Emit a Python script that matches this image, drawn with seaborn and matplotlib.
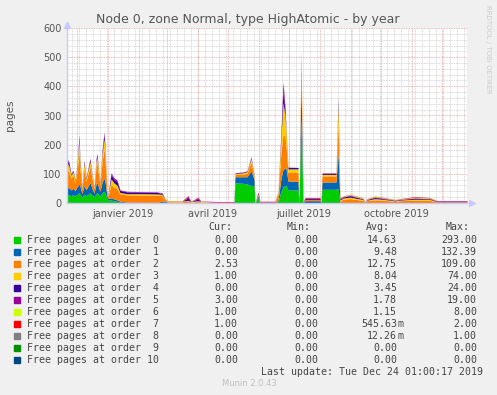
import pandas as pd
import seaborn as sns
import matplotlib.pyplot as plt
from matplotlib.patches import Rectangle

# sample days since the start of the 400 day window
days = [0, 2, 4, 6, 8, 10, 12, 13, 15, 17, 19, 21, 23, 25, 27, 29, 30, 32, 33, 35, 37, 38, 40, 41, 44,
        47, 50, 53, 60, 75, 90, 95, 98, 101, 115,
        121, 124, 131, 134, 150, 167, 168, 175, 180, 184,
        187, 188, 191, 193, 208, 211, 214, 216, 218, 219,
        221, 231, 232, 234, 236, 238, 253, 254, 255, 269,
        271, 273, 276, 283, 296, 298, 300, 308, 318, 328,
        333, 348, 363, 370, 400]

order0 = [30, 28, 25, 28, 25, 30, 35, 30, 20, 30, 25, 30, 35, 28, 22, 32, 35, 28, 25, 35, 40, 35, 15, 10, 10,
          8, 6, 3, 1, 0, 0, 2, 3, 0, 0,
          0, 0, 0, 0, 0, 0, 69, 68, 65, 60,
          60, 0, 15, 0, 0, 5, 40, 55, 60, 60,
          45, 45, 2, 290, 0, 0, 0, 0, 47, 47,
          50, 0, 0, 0, 0, 0, 0, 0, 0, 0,
          0, 0, 0, 0, 0]
order1 = [25, 24, 20, 22, 18, 25, 30, 28, 12, 30, 20, 28, 35, 22, 12, 32, 35, 22, 15, 35, 45, 40, 8, 6, 8,
          6, 5, 3, 2, 2, 2, 4, 4, 0, 0,
          0, 0, 0, 0, 0, 0, 21, 22, 25, 50,
          22, 0, 8, 0, 0, 5, 45, 60, 60, 60,
          30, 30, 2, 130, 1, 8, 8, 0, 25, 25,
          120, 2, 1, 1, 1, 0, 1, 1, 1, 0,
          1, 1, 1, 0, 0]
order2 = [60, 55, 40, 45, 25, 50, 110, 60, 15, 60, 30, 42, 55, 35, 15, 60, 65, 35, 22, 70, 100, 80, 10, 8, 45,
          40, 38, 25, 25, 25, 24, 20, 5, 4, 4,
          6, 3, 5, 3, 1, 1, 8, 9, 12, 30,
          10, 1, 5, 2, 2, 20, 90, 120, 110, 80,
          30, 30, 3, 90, 1, 4, 4, 0, 21, 21,
          109, 4, 12, 14, 8, 1, 7, 10, 8, 5,
          7, 9, 8, 3, 3]
order3 = [22, 20, 10, 12, 8, 17, 40, 20, 5, 17, 7, 13, 18, 10, 4, 17, 22, 10, 6, 25, 35, 30, 3, 3, 20,
          15, 12, 5, 4, 5, 5, 4, 2, 2, 2,
          3, 2, 3, 2, 0, 0, 3, 4, 5, 12,
          4, 0, 3, 1, 1, 6, 50, 110, 70, 50,
          12, 12, 1, 10, 1, 0, 0, 0, 5, 5,
          60, 4, 4, 5, 3, 0, 2, 4, 3, 2,
          2, 3, 3, 1, 1]
order4 = [10, 9, 4, 4, 3, 6, 12, 8, 2, 6, 3, 5, 7, 4, 1, 6, 9, 4, 3, 10, 15, 10, 1, 1, 15,
          12, 13, 7, 6, 5, 5, 4, 1, 0, 0,
          8, 0, 6, 0, 1, 1, 2, 2, 2, 4,
          2, 0, 5, 1, 1, 1, 15, 40, 20, 10,
          5, 5, 1, 3, 1, 3, 3, 0, 3, 3,
          15, 4, 3, 5, 2, 0, 2, 4, 2, 2,
          2, 3, 2, 1, 1]
order5 = [5, 4, 1, 2, 1, 2, 6, 4, 1, 4, 1, 2, 4, 1, 1, 3, 5, 1, 1, 5, 8, 5, 1, 0, 5,
          5, 5, 2, 2, 2, 2, 1, 0, 0, 0,
          6, 0, 4, 0, 1, 1, 1, 1, 1, 2,
          1, 0, 2, 1, 1, 1, 10, 30, 10, 0,
          1, 0, 0, 1, 0, 2, 2, 0, 2, 2,
          6, 2, 2, 2, 1, 1, 1, 2, 2, 1,
          1, 2, 2, 2, 2]
order6 = [0, 0, 0, 0, 0, 0, 0, 0, 0, 0, 0, 0, 0, 0, 0, 0, 0, 0, 0, 0, 0, 0, 0, 0, 0,
          0, 0, 0, 0, 0, 0, 0, 0, 1, 1,
          0, 1, 0, 1, 0, 0, 0, 0, 0, 0,
          0, 0, 0, 0, 0, 0, 0, 0, 0, 0,
          0, 0, 0, 0, 0, 0, 0, 0, 0, 0,
          0, 1, 1, 2, 2, 1, 1, 2, 1, 1,
          1, 2, 2, 0, 0]
order7 = [0, 0, 0, 0, 0, 0, 0, 0, 0, 0, 0, 0, 0, 0, 0, 0, 0, 0, 0, 0, 0, 0, 0, 0, 0,
          0, 0, 0, 0, 0, 0, 0, 0, 1, 1,
          2, 1, 2, 1, 2, 2, 0, 0, 0, 0,
          0, 0, 0, 1, 1, 0, 0, 0, 0, 0,
          0, 0, 0, 0, 0, 2, 2, 0, 0, 0,
          0, 1, 1, 1, 1, 1, 1, 1, 1, 1,
          1, 2, 1, 1, 1]
order8 = [0] * len(days)
order9 = [0] * len(days)
order10 = [0] * len(days)

labels = ['Free pages at order  %d' % i for i in range(10)] + ['Free pages at order 10']
colors = ['#00CC00', '#0066B3', '#FF8000', '#FFCC00', '#330099', '#990099',
          '#CCFF00', '#FF0000', '#808080', '#008F00', '#00487D']
cur = ['0.00', '0.00', '2.53', '1.00', '0.00', '3.00', '1.00', '1.00', '0.00', '0.00', '0.00']
mins = ['0.00'] * 11
avg = ['14.63', '9.48', '12.75', '8.04', '3.45', '1.78', '1.15', '545.63m', '12.26m', '0.00', '0.00']
maxs = ['293.00', '132.39', '109.00', '74.00', '24.00', '19.00', '8.00', '2.00', '1.00', '0.00', '0.00']
month_labels = ['janvier 2019', 'avril 2019', 'juillet 2019', 'octobre 2019']

start = pd.Timestamp('2018-11-21')
end = start + pd.Timedelta(days=400)
dates = start + pd.to_timedelta(days, unit='D')

sns.set_theme(style='white')
plt.rcParams['font.family'] = 'DejaVu Sans'

W, H = 497, 395
fig = plt.figure(figsize=(W / 100, H / 100), dpi=100, facecolor='#F0F0F0')
ax = fig.add_axes([67 / W, 1 - 203 / H, 400 / W, 175 / H])
ax.set_facecolor('white')

series = [order0, order1, order2, order3, order4, order5, order6, order7, order8, order9, order10]
ax.stackplot(dates, *series, colors=colors, linewidth=0, antialiased=False, zorder=3)

ax.set_xlim(start, end)
ax.set_ylim(0, 600)

# grid
for v in range(20, 600, 20):
    if v % 100:
        ax.axhline(v, color='#cccccc', lw=0.6, ls=(0, (1, 1)), zorder=1)
for v in range(100, 601, 100):
    ax.axhline(v, color='#e5a0a0', lw=0.6, ls=(0, (1, 1)), zorder=1)
for d in pd.date_range(start, end, freq='W-MON'):
    ax.axvline(d, color='#cccccc', lw=0.6, ls=(0, (1, 1)), zorder=1)
for d in pd.date_range(start, end, freq='MS'):
    ax.axvline(d, color='#e5a0a0', lw=0.6, ls=(0, (1, 1)), zorder=1)

ax.set_yticks(range(0, 601, 100))
mid = pd.to_datetime(['2019-01-16', '2019-04-16', '2019-07-16', '2019-10-16'])
ax.set_xticks(mid)
ax.set_xticklabels(month_labels)
ax.tick_params(length=0, labelsize=7, colors='#555555', pad=4)
ax.set_ylabel('pages', fontsize=7.5, color='#555555', labelpad=20)

for s in ['top', 'right']:
    ax.spines[s].set_visible(False)
for s in ['left', 'bottom']:
    ax.spines[s].set_color('#c8c8ff')
    ax.spines[s].set_linewidth(1)
    ax.spines[s].set_zorder(4)
ax.plot([0], [1.02], marker='^', ms=4, color='#c8c8ff', transform=ax.transAxes, clip_on=False)
ax.plot([1.012], [0], marker='>', ms=4, color='#c8c8ff', transform=ax.transAxes, clip_on=False)

fig.text(248 / W, 1 - 19 / H, 'Node 0, zone Normal, type HighAtomic - by year',
         ha='center', va='center', fontsize=9, color='#555555')
fig.text(488 / W, 1 - 5 / H, 'RRDTOOL / TOBI OETIKER', rotation=270, ha='center', va='top',
         fontsize=5, color='#cccccc')

# legend table
mono = 'DejaVu Sans Mono'
tc = '#444444'
fs = 7.1
hy = 227
for txt, xr in zip(['Cur:', 'Min:', 'Avg:', 'Max:'], [232, 311, 390, 470]):
    fig.text(xr / W, 1 - hy / H, txt, ha='right', va='center', family=mono, fontsize=fs, color=tc)
for i in range(11):
    y = 240 + 12 * i
    fig.patches.append(Rectangle((14 / W, 1 - (y + 3) / H), 6 / W, 6 / H, color=colors[i],
                                 transform=fig.transFigure, figure=fig))
    fig.text(27 / W, 1 - y / H, labels[i], ha='left', va='center', family=mono, fontsize=fs, color=tc)
    for val, xr in zip([cur[i], mins[i], avg[i], maxs[i]], [238, 318, 397, 477]):
        if val.endswith('m'):
            fig.text(xr / W, 1 - y / H, val[:-1], ha='right', va='center', family=mono, fontsize=fs, color=tc)
            fig.text(xr / W, 1 - y / H, 'm', ha='left', va='center', family=mono, fontsize=fs, color=tc)
        else:
            fig.text(xr / W, 1 - y / H, val, ha='right', va='center', family=mono, fontsize=fs, color=tc)

fig.text(483 / W, 1 - 372 / H, 'Last update: Tue Dec 24 01:00:17 2019', ha='right', va='center',
         family=mono, fontsize=fs, color=tc)
fig.text(249 / W, 1 - 384 / H, 'Munin 2.0.43', ha='center', va='center', fontsize=6, color='#c0c0c0')

fig.savefig('out.png', dpi=100, facecolor=fig.get_facecolor())
